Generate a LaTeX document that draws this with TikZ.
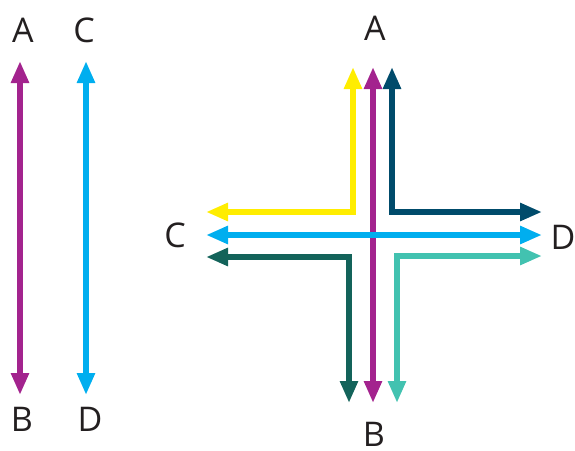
\documentclass[tikz,border=0pt]{standalone}
\usepackage{fontspec}
\setmainfont{Open Sans}
\usetikzlibrary{arrows.meta}
\definecolor{cmag}{HTML}{A3238E}
\definecolor{ccyan}{HTML}{00AEEF}
\definecolor{cyel}{HTML}{FFED00}
\definecolor{cdblue}{HTML}{004B6B}
\definecolor{cdgreen}{HTML}{13635A}
\definecolor{cteal}{HTML}{42C2B0}
\definecolor{ctext}{HTML}{231F20}
\begin{document}
\begin{tikzpicture}[x=1pt,y=-1pt,
  arr/.style={line width=6pt,line join=miter,
    {Triangle[length=22pt,width=17pt]}-{Triangle[length=22pt,width=17pt]}},
  lbl/.style={inner sep=0pt,text height=24pt,text depth=0pt,
    font=\fontsize{34}{34}\selectfont,text=ctext}]
\useasboundingbox (0,0) rectangle (575,450);
% left labels
\node[lbl] (lA) at (23,30) {A};
\node[lbl] (lC) at (84,30) {C};
\node[lbl] (lB) at (22,419) {B};
\node[lbl] (lD) at (90,419) {D};
% right labels
\node[lbl] (rA) at (375,28) {A};
\node[lbl] (rC) at (175,235) {C};
\node[lbl] (rD) at (563,237) {D};
\node[lbl] (rB) at (374,434) {B};
% left arrows
\coordinate (la1) at (20,61); \coordinate (la2) at (20,395);
\coordinate (lc1) at (86,61); \coordinate (lc2) at (86,395);
\draw[arr,cmag] (la1) -- (la2);
\draw[arr,ccyan] (lc1) -- (lc2);
% cross coordinates
\coordinate (y1) at (206,212); \coordinate (yk) at (353,212); \coordinate (y2) at (353,67);
\coordinate (b1) at (392,67); \coordinate (bk) at (392,212); \coordinate (b2) at (542,212);
\coordinate (g1) at (206,257); \coordinate (gk) at (349,257); \coordinate (g2) at (349,403);
\coordinate (t1) at (542,256); \coordinate (tk) at (397,256); \coordinate (t2) at (397,403);
\coordinate (m1) at (373,67); \coordinate (m2) at (373,403);
\coordinate (c1) at (206,235); \coordinate (c2) at (542,235);
\draw[arr,cyel] (y1) -- (yk) -- (y2);
\draw[arr,cdblue] (b1) -- (bk) -- (b2);
\draw[arr,cdgreen] (g1) -- (gk) -- (g2);
\draw[arr,cteal] (t1) -- (tk) -- (t2);
\draw[arr,cmag] (m1) -- (m2);
\draw[arr,ccyan] (c1) -- (c2);
\end{tikzpicture}
\end{document}
